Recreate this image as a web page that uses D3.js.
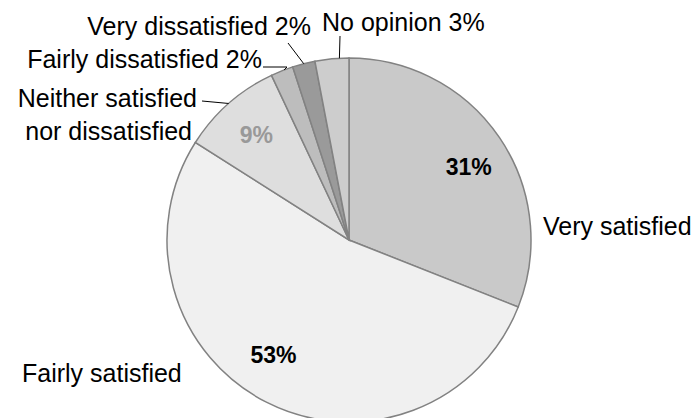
<!DOCTYPE html>
<html>
<head>
<meta charset="utf-8">
<script src="https://cdn.jsdelivr.net/npm/d3@7"></script>
<style>
  body { margin: 0; background: #fff; }
  svg { display: block; font-family: "Liberation Sans", Arial, sans-serif; }
</style>
</head>
<body>
<div id="chart"></div>
<script>
// data
var categories = ["Very satisfied", "Fairly satisfied", "Neither satisfied nor dissatisfied",
                  "Fairly dissatisfied", "Very dissatisfied", "No opinion"];
var values = [31, 53, 9, 2, 2, 3];
var outerLabels = [["Very satisfied"], ["Fairly satisfied"], ["Neither satisfied", "nor dissatisfied"],
                   ["Fairly dissatisfied 2%"], ["Very dissatisfied 2%"], ["No opinion 3%"]];
var innerLabels = ["31%", "53%", "9%", "", "", ""];

var colors = ["#c9c9c9", "#f0f0f0", "#dedede", "#bdbdbd", "#9a9a9a", "#cdcdcd"];

var width = 698, height = 418;
var cx = 349, cy = 240, radius = 182;

// where each outer label sits, and where its leader line meets the pie
var labelLayout = [
  { x: 543, y: 235, anchor: "start", lead: null },
  { x: 22, y: 382, anchor: "start", lead: null },
  { x: 197, y: 107, anchor: "end", lead: { from: [202, 101], t: 0.5 } },
  { x: 262, y: 68, anchor: "end", lead: { from: [263, 67], via: [287, 67], t: 0.6 } },
  { x: 311, y: 35, anchor: "end", lead: { from: [288, 43], t: 0.5 } },
  { x: 322, y: 31, anchor: "start", lead: { from: [340, 36], t: 0.72 } }
];
var innerNudge = [[4, 6], [-12, -10], [0, 0], [0, 0], [0, 0], [0, 0]];

var svg = d3.select("#chart").append("svg")
    .attr("width", width)
    .attr("height", height);

var g = svg.append("g")
    .attr("transform", "translate(" + cx + "," + cy + ")");

var pie = d3.pie().sort(null).value(function(d) { return d; });
var arcs = pie(values);

var arc = d3.arc().innerRadius(0).outerRadius(radius);
var labelArc = d3.arc().innerRadius(140).outerRadius(140);

g.selectAll("path.slice")
  .data(arcs)
  .enter().append("path")
    .attr("class", "slice")
    .attr("d", arc)
    .attr("fill", function(d, i) { return colors[i]; })
    .attr("stroke", "#828282")
    .attr("stroke-width", 1.5);

// percentages inside
g.selectAll("text.pct")
  .data(arcs)
  .enter().append("text")
    .attr("class", "pct")
    .attr("x", function(d, i) { return labelArc.centroid(d)[0] + innerNudge[i][0]; })
    .attr("y", function(d, i) { return labelArc.centroid(d)[1] + innerNudge[i][1]; })
    .attr("dy", "0.35em")
    .attr("text-anchor", "middle")
    .style("font-size", "23px")
    .style("font-weight", "bold")
    .attr("fill", function(d, i) { return i === 2 ? "#999999" : "#000000"; })
    .text(function(d, i) { return innerLabels[i]; });

// leader lines
arcs.forEach(function(d, i) {
  var lay = labelLayout[i];
  if (!lay.lead) return;
  var a = d.startAngle + lay.lead.t * (d.endAngle - d.startAngle);
  var edge = [cx + radius * Math.sin(a), cy - radius * Math.cos(a)];
  var pts = [lay.lead.from];
  if (lay.lead.via) pts.push(lay.lead.via);
  pts.push(edge);
  svg.append("path")
    .attr("d", d3.line()(pts))
    .attr("fill", "none")
    .attr("stroke", "#000")
    .attr("stroke-width", 1);
});

// outer labels
outerLabels.forEach(function(lines, i) {
  var lay = labelLayout[i];
  var t = svg.append("text")
    .attr("x", lay.x)
    .attr("y", lay.y)
    .attr("text-anchor", lay.anchor)
    .style("font-size", "25px")
    .attr("fill", "#000");
  lines.forEach(function(line, j) {
    t.append("tspan")
      .attr("x", lay.x)
      .attr("dy", j === 0 ? 0 : 33)
      .attr("text-anchor", j === 0 ? lay.anchor : "end")
      .attr("dx", j === 0 ? 0 : -5)
      .text(line);
  });
});
</script>
</body>
</html>
